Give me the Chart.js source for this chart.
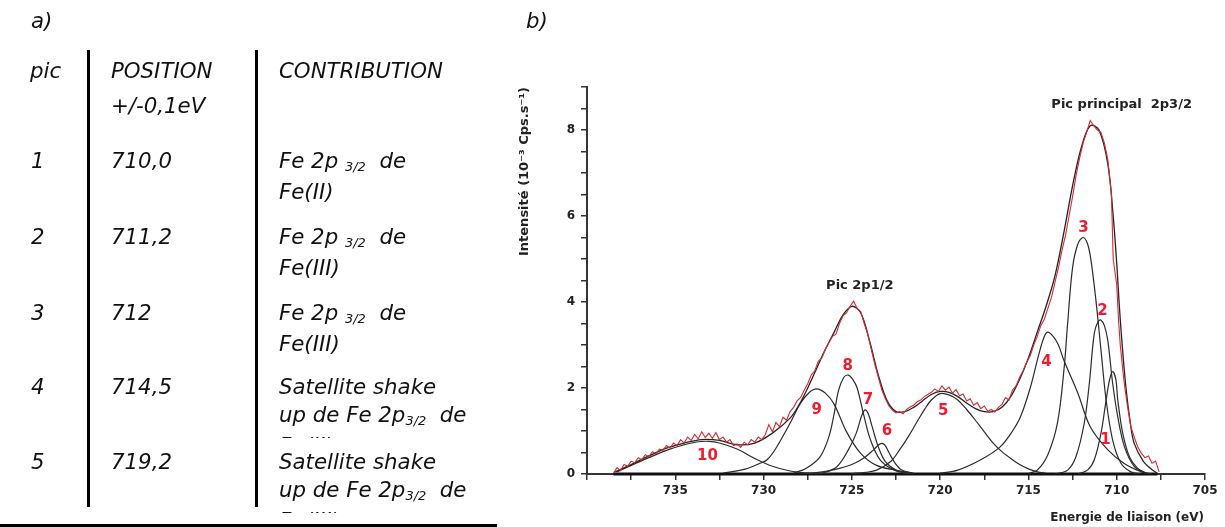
<!DOCTYPE html>
<html>
<head>
<meta charset="utf-8">
<script src="https://cdn.jsdelivr.net/npm/chart.js@4.4.1/dist/chart.umd.min.js"></script>
<style>
  html, body { margin: 0; padding: 0; background: #fff; }
  #page { position: relative; width: 1225px; height: 527px; overflow: hidden; }
  #cvs { position: absolute; left: 0; top: 0; }
  .txt { position: absolute; font-family: "DejaVu Sans", Verdana, sans-serif; font-style: italic;
         font-size: 21.3px; color: #111; white-space: nowrap; line-height: 28px; }
  .cell { overflow: hidden; height: 65px; }
  .sub { font-size: 13px; position: relative; top: 3px; }
  .rule { position: absolute; background: #000; }
</style>
</head>
<body>
<div id="page">
  <canvas id="cvs" width="1225" height="527"></canvas>
  <div id="table"></div>
</div>
<script>
// table a) : peak ids, positions and contributions
const picIds = ["1", "2", "3", "4", "5"];
const picPositions = ["710,0", "711,2", "712", "714,5", "719,2"];
const picContribs = [
  'Fe 2p <span class="sub">3/2</span>&nbsp; de<br>Fe(II)',
  'Fe 2p <span class="sub">3/2</span>&nbsp; de<br>Fe(III)',
  'Fe 2p <span class="sub">3/2</span>&nbsp; de<br>Fe(III)',
  'Satellite shake<br>up de Fe 2p<span class="sub">3/2</span>&nbsp; de<br>Fe(II)',
  'Satellite shake<br>up de Fe 2p<span class="sub">3/2</span>&nbsp; de<br>Fe(III)'
];

// graph b) : axis ticks
const energyTicks = [705, 710, 715, 720, 725, 730, 735];
const intensityTicks = [0, 2, 4, 6, 8];

// measured spectrum (red), [energy eV, intensity]
const mesure = [
  [738.5,0.02],[738.3,0.15],[738.1,0.08],[737.9,0.22],[737.7,0.18],[737.5,0.3],[737.3,0.26],[737.1,0.38],
  [736.9,0.33],[736.7,0.45],[736.5,0.4],[736.3,0.52],[736.1,0.47],[735.9,0.58],[735.7,0.55],[735.5,0.66],
  [735.3,0.6],[735.1,0.72],[734.9,0.66],[734.7,0.8],[734.5,0.72],[734.3,0.86],[734.1,0.78],[733.9,0.92],
  [733.7,0.82],[733.5,0.98],[733.3,0.85],[733.1,0.95],[732.9,0.83],[732.7,0.96],[732.5,0.8],[732.3,0.86],
  [732.1,0.74],[731.9,0.8],[731.7,0.66],[731.5,0.7],[731.3,0.62],[731.1,0.74],[730.9,0.68],[730.7,0.8],
  [730.5,0.74],[730.3,0.86],[730.1,0.8],[729.9,0.92],[729.7,1.15],[729.5,0.98],[729.3,1.2],[729.1,1.1],
  [728.9,1.32],[728.7,1.25],[728.5,1.45],[728.3,1.55],[728.1,1.7],[727.9,1.78],[727.7,1.95],[727.5,2.1],
  [727.3,2.3],[727.1,2.4],[726.9,2.62],[726.7,2.7],[726.5,2.9],[726.3,3.05],[726.1,3.2],[725.9,3.25],
  [725.7,3.5],[725.5,3.68],[725.3,3.75],[725.1,3.9],[724.9,4.02],[724.7,3.85],[724.5,3.78],[724.3,3.5],
  [724.1,3.25],[723.9,2.9],[723.7,2.55],[723.5,2.25],[723.3,1.95],[723.1,1.75],[722.9,1.58],[722.7,1.48],
  [722.5,1.42],[722.3,1.45],[722.1,1.4],[721.9,1.5],[721.7,1.56],[721.5,1.6],[721.3,1.68],[721.1,1.72],
  [720.9,1.8],[720.7,1.85],[720.5,1.9],[720.3,1.98],[720.1,1.92],[719.9,2.05],[719.7,1.95],[719.5,2.02],
  [719.3,1.88],[719.1,1.96],[718.9,1.82],[718.7,1.86],[718.5,1.7],[718.3,1.75],[718.1,1.6],[717.9,1.66],
  [717.7,1.52],[717.5,1.58],[717.3,1.46],[717.1,1.5],[716.9,1.44],[716.7,1.55],[716.5,1.62],[716.3,1.78],
  [716.1,1.72],[715.9,1.95],[715.7,2.05],[715.5,2.25],[715.3,2.4],[715.1,2.6],[714.9,2.75],[714.7,3.0],
  [714.5,3.2],[714.3,3.45],[714.1,3.6],[713.9,3.85],[713.7,4.1],[713.5,4.45],[713.3,4.8],[713.1,5.2],
  [712.9,5.55],[712.7,6.0],[712.5,6.45],[712.3,6.95],[712.1,7.35],[711.9,7.7],[711.7,7.95],[711.5,8.22],
  [711.3,8.1],[711.1,8.0],[710.9,7.95],[710.7,7.7],[710.5,7.3],[710.3,6.5],[710.2,5.0],[710.0,4.4],
  [709.9,3.6],[709.8,3.0],[709.6,2.2],[709.4,1.6],[709.2,1.1],[709.0,0.85],[708.8,0.62],[708.6,0.48],
  [708.4,0.38],[708.2,0.42],[708.0,0.25],[707.8,0.3],[707.6,0.05]
];

// fitted envelope (black)
const enveloppe = [
  [738.4,0.05],[737.5,0.22],[736.5,0.42],[735.5,0.6],[734.5,0.72],[733.5,0.8],[732.5,0.78],[731.5,0.68],
  [730.5,0.72],[729.5,0.95],[728.5,1.3],[728,1.6],[727.5,2.0],[727,2.45],[726.5,2.9],[726,3.3],[725.5,3.7],
  [725,3.9],[724.5,3.75],[724,3.1],[723.5,2.3],[723,1.7],[722.5,1.45],[722,1.45],[721.5,1.55],[721,1.7],
  [720.5,1.85],[720,1.92],[719.5,1.9],[719,1.8],[718.5,1.65],[718,1.52],[717.5,1.45],[717,1.45],[716.5,1.55],
  [716,1.8],[715.5,2.2],[715,2.7],[714.5,3.3],[714,3.9],[713.5,4.6],[713,5.6],[712.5,6.7],[712,7.6],
  [711.5,8.1],[711,8.0],[710.5,7.2],[710.2,6.0],[710,4.9],[709.8,3.6],[709.5,2.1],[709.2,1.1],[709,0.7],
  [708.5,0.3],[708,0.1],[707.7,0.02]
];

// fitted components 1..10
const pic1 = [[712.2,0],[711.65,0.09],[711.27,0.33],[710.89,0.95],[710.6,1.72],[710.4,2.2],[710.23,2.38],
  [710.05,2.2],[709.94,1.72],[709.66,0.95],[709.28,0.4],[708.81,0.13],[708.3,0.02]];
const pic2 = [[713.5,0],[712.78,0.09],[712.31,0.4],[711.84,1.18],[711.55,2.11],[711.27,3.27],[711.05,3.55],
  [710.9,3.58],[710.7,3.45],[710.51,3.12],[710.23,2.11],[709.94,1.33],[709.56,0.63],[709,0.17],[708.4,0.02]];
const pic3 = [[715,0.01],[714.5,0.09],[713.9,0.45],[713.35,1.2],[712.97,2.5],[712.78,3.5],[712.5,4.8],
  [712.2,5.35],[711.9,5.5],[711.65,5.35],[711.46,4.98],[711.18,4.05],[710.89,2.88],[710.6,1.72],
  [710.23,0.79],[709.76,0.25],[709.2,0.05],[708.6,0]];
const pic4 = [[720,0.02],[719,0.09],[717.7,0.33],[716.6,0.63],[715.9,1.0],[715.45,1.33],[714.9,2.0],
  [714.4,2.8],[714.1,3.2],[713.9,3.3],[713.6,3.2],[713.3,3.0],[713,2.65],[712.2,1.88],[711.5,1.1],
  [710.5,0.56],[709.6,0.25],[708.6,0.05],[708,0]];
const pic5 = [[725,0.01],[724.2,0.04],[723.6,0.09],[722.8,0.29],[722.3,0.56],[721.8,0.87],[721.3,1.22],
  [720.9,1.49],[720.5,1.72],[720,1.87],[719.5,1.84],[719,1.72],[718.5,1.5],[718,1.25],[717.5,0.98],
  [717,0.72],[716.5,0.52],[716,0.36],[715.5,0.22],[715,0.12],[714.5,0.05],[714,0.02]];
const pic6 = [[728,0],[727,0.03],[726,0.1],[725,0.22],[724.3,0.38],[723.8,0.55],[723.4,0.7],[723.15,0.68],
  [722.9,0.5],[722.6,0.28],[722.2,0.1],[721.6,0.02]];
const pic7 = [[727.2,0],[726.6,0.03],[725.85,0.17],[725.2,0.56],[724.75,0.95],[724.45,1.35],[724.25,1.49],
  [724.05,1.38],[723.85,1.1],[723.5,0.63],[723.1,0.29],[722.45,0.08],[721.7,0.01]];
const pic8 = [[728.3,0.02],[727.6,0.13],[726.8,0.4],[726.3,0.87],[726,1.41],[725.75,1.95],[725.45,2.25],
  [725.2,2.3],[724.95,2.2],[724.7,2.0],[724.35,1.41],[723.95,0.8],[723.4,0.33],[722.6,0.09],[721.8,0.01]];
const pic9 = [[732.3,0.02],[731,0.12],[730.2,0.25],[729.8,0.33],[729.3,0.6],[728.5,1.18],[727.9,1.65],
  [727.4,1.9],[727,1.98],[726.5,1.88],[726,1.62],[725.3,0.98],[724.5,0.48],[723.6,0.2],[722.4,0.08],[721.5,0.02]];
const pic10 = [[738.3,0.05],[737.5,0.2],[736.5,0.38],[735.5,0.55],[734.5,0.68],[733.7,0.75],[733.1,0.76],
  [732.5,0.72],[731.5,0.58],[730.5,0.36],[729.5,0.18],[728.5,0.07],[727.5,0.02],[726,0]];
const fondContinu = [[738.5,0],[707.7,0]];

// labels on the graph, in data coordinates
const picLabels = [
  ["1",710.63,0.79],["2",710.8,3.79],["3",711.88,5.72],["4",713.98,2.6],["5",719.83,1.47],
  ["6",723.01,1.0],["7",724.09,1.72],["8",725.23,2.51],["9",726.99,1.49],["10",733.18,0.42]
];
const titreLabels = [["Pic principal  2p3/2",709.72,8.58],["Pic 2p1/2",724.55,4.37]];
const xTitle = "Energie de liaison (eV)";

// ---- build the table a) ----
const tbl = document.getElementById("table");
const put = (html, x, y, cls) => {
  const d = document.createElement("div");
  d.className = "txt" + (cls ? " " + cls : "");
  d.style.left = x + "px";
  d.style.top = y + "px";
  d.innerHTML = html;
  tbl.appendChild(d);
  return d;
};
const rule = (x, y, w, h) => {
  const d = document.createElement("div");
  d.className = "rule";
  Object.assign(d.style, { left: x + "px", top: y + "px", width: w + "px", height: h + "px" });
  tbl.appendChild(d);
};
put("a)", 31, 7);
put("b)", 526, 7);
put("pic", 30, 57);
put("POSITION", 111, 57);
put("+/-0,1eV", 111, 92);
put("CONTRIBUTION", 279, 57);
const rowTops = [147, 223, 299, 373, 448];
picIds.forEach((id, i) => {
  put(id, 31, rowTops[i]);
  put(picPositions[i], 111, rowTops[i]);
  put(picContribs[i], 279, rowTops[i], "cell");
});
rule(87, 50, 3, 457);
rule(255, 50, 3, 457);
rule(0, 524, 497, 3);

// ---- chart b) ----
const toXY = (arr) => arr.map(([x, y]) => ({ x, y }));
const comp = (arr) => ({
  data: toXY(arr), borderColor: "#2b2b2b", borderWidth: 1.2, pointRadius: 0, tension: 0.35, order: 3
});

// peak numbers, peak titles and the x axis title (reversed axis breaks title align)
const labelPlugin = {
  id: "labels",
  afterDraw(chart) {
    const { ctx, chartArea, scales: { x, y } } = chart;
    ctx.save();
    ctx.textAlign = "center";
    ctx.textBaseline = "middle";
    ctx.fillStyle = "#ee1c2e";
    ctx.font = 'bold 15px "DejaVu Sans"';
    picLabels.forEach(([t, e, v]) => ctx.fillText(t, x.getPixelForValue(e), y.getPixelForValue(v)));
    ctx.fillStyle = "#222";
    ctx.font = 'bold 13px "DejaVu Sans"';
    titreLabels.forEach(([t, e, v]) => ctx.fillText(t, x.getPixelForValue(e), y.getPixelForValue(v)));
    ctx.font = 'bold 12px "DejaVu Sans"';
    ctx.textAlign = "right";
    ctx.fillText(xTitle, chartArea.right - 1, x.bottom - 9);
    ctx.restore();
  }
};

const axisFont = { family: "DejaVu Sans", size: 12, weight: "bold" };

new Chart(document.getElementById("cvs").getContext("2d"), {
  type: "line",
  data: {
    datasets: [
      { data: toXY(mesure), borderColor: "#d42a30", borderWidth: 1.1, pointRadius: 0, tension: 0, order: 1 },
      { data: toXY(enveloppe), borderColor: "#222", borderWidth: 1.3, pointRadius: 0, tension: 0.35, order: 2 },
      comp(pic1), comp(pic2), comp(pic3), comp(pic4), comp(pic5),
      comp(pic6), comp(pic7), comp(pic8), comp(pic9), comp(pic10),
      { data: toXY(fondContinu), borderColor: "#111", borderWidth: 3, pointRadius: 0, order: 4, clip: false }
    ]
  },
  options: {
    responsive: false,
    animation: false,
    devicePixelRatio: 1,
    layout: { padding: { left: 512, top: 87, right: 20, bottom: 0 } },
    plugins: { legend: { display: false }, tooltip: { enabled: false } },
    scales: {
      x: {
        type: "linear",
        reverse: true,
        min: 705,
        max: 740,
        afterFit: (s) => { s.height = 53; },
        border: { display: true, color: "#333", width: 2 },
        grid: { drawOnChartArea: false, drawTicks: true, tickLength: 6, color: "#333", lineWidth: 1.5 },
        ticks: {
          stepSize: 2.5, autoSkip: false, maxRotation: 0, padding: 4, color: "#222", font: axisFont,
          callback: (v) => energyTicks.includes(v) ? String(v) : ""
        }
      },
      y: {
        min: 0,
        max: 9,
        afterFit: (s) => { s.width = 75; },
        border: { display: true, color: "#333", width: 2 },
        grid: { drawOnChartArea: false, drawTicks: true, tickLength: 6, color: "#333", lineWidth: 1.5 },
        ticks: {
          stepSize: 0.5, autoSkip: false, padding: 6, color: "#222", font: axisFont,
          callback: (v) => intensityTicks.includes(v) ? String(v) : ""
        },
        title: { display: true, text: "Intensité (10⁻³ Cps.s⁻¹)", align: "end", color: "#222",
                 font: { family: "DejaVu Sans", size: 13, weight: "bold" }, padding: { top: 5, bottom: 4 } }
      }
    }
  },
  plugins: [labelPlugin]
});
</script>
</body>
</html>
